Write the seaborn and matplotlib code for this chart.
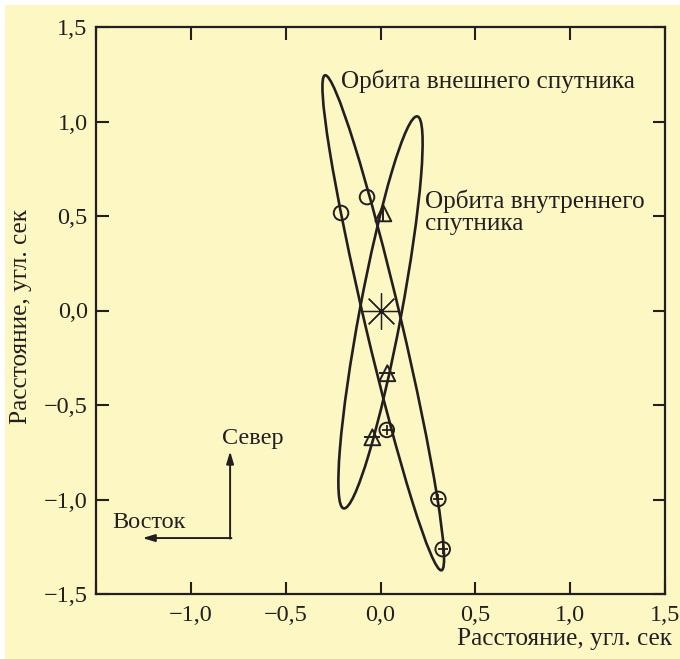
import numpy as np
import matplotlib
matplotlib.use('Agg')
import matplotlib.pyplot as plt
from matplotlib.patches import Ellipse, Rectangle
import pandas as pd
import seaborn as sns

# orbit ellipses: centre, full major / minor axis, angle (deg)
orbit_names = ['outer', 'inner']
orbit_cx = [0.0145, 0.0]
orbit_cy = [-0.065, -0.01]
orbit_major = [2.69, 2.11]
orbit_minor = [0.19, 0.22]
orbit_angle = [103.2, 79.4]

# satellite positions marked on the orbits
circle_x = [-0.208, -0.071, 0.033, 0.305, 0.328]
circle_y = [0.516, 0.600, -0.632, -0.997, -1.263]
circle_plus = [False, False, True, True, True]
tri_x = [0.015, 0.036, -0.043]
tri_y = [0.514, -0.332, -0.671]
tri_bar = ['|', '_', '_']

ticks = [-1.5, -1.0, -0.5, 0.0, 0.5, 1.0, 1.5]
xtick_labels = ['', '−1,0', '−0,5', '0,0', '0,5', '1,0', '1,5']
ytick_labels = ['−1,5', '−1,0', '−0,5', '0,0', '0,5', '1,0', '1,5']

INK = '#231f20'
BG = '#fdf7c4'

sns.set_theme(style='ticks')
plt.rcParams['font.family'] = ['Liberation Serif', 'DejaVu Serif']
plt.rcParams['axes.unicode_minus'] = False

fig = plt.figure(figsize=(6.8, 6.59), dpi=100, facecolor=BG)
# thin white margin on the top and left edges
fig.patches.append(Rectangle((0, 0), 5 / 680, 1, transform=fig.transFigure,
                             facecolor='white', edgecolor='none'))
fig.patches.append(Rectangle((0, 1 - 5 / 659), 1, 5 / 659, transform=fig.transFigure,
                             facecolor='white', edgecolor='none'))
ax = fig.add_axes([96 / 680, 65 / 659, 569 / 680, 567 / 659])
ax.set_facecolor(BG)

for cx, cy, w, h, a in zip(orbit_cx, orbit_cy, orbit_major, orbit_minor, orbit_angle):
    ax.add_patch(Ellipse((cx, cy), w, h, angle=a, fill=False, edgecolor=INK, lw=1.9, zorder=3))

pts = pd.DataFrame({'x': circle_x, 'y': circle_y, 'plus': circle_plus})
sns.scatterplot(data=pts, x='x', y='y', marker='o', s=110, facecolors='none',
                edgecolor=INK, linewidth=1.4, ax=ax, zorder=4)
sns.scatterplot(data=pts[pts['plus']], x='x', y='y', marker='+', s=45, color=INK,
                linewidth=1.3, ax=ax, zorder=4)

tri = pd.DataFrame({'x': tri_x, 'y': tri_y, 'bar': tri_bar})
sns.scatterplot(data=tri, x='x', y='y', marker='^', s=130, facecolors='none',
                edgecolor=INK, linewidth=1.4, ax=ax, zorder=4)
for bx, by, b in zip(tri_x, tri_y, tri_bar):
    ax.plot([bx], [by], marker=b, ms=11, mew=1.4, color=INK, zorder=4)

# central star
ax.plot([0], [0], marker=(8, 2, 0), ms=26, mew=0.9, color=INK, zorder=4)

# direction arrows
ax.annotate('', xy=(-0.793, -0.745), xytext=(-0.793, -1.207),
            arrowprops=dict(arrowstyle='-|>,head_length=0.6,head_width=0.18', color=INK, lw=1.4,
                            shrinkA=0, shrinkB=0))
ax.annotate('', xy=(-1.255, -1.204), xytext=(-0.786, -1.204),
            arrowprops=dict(arrowstyle='-|>,head_length=0.6,head_width=0.18', color=INK, lw=1.4,
                            shrinkA=0, shrinkB=0))

fs = 17.5
fs_txt = 18.2
ax.text(-0.208, 1.215, 'Орбита внешнего спутника', fontsize=fs_txt, color=INK, va='center', ha='left')
ax.text(0.235, 0.52, 'Орбита внутреннего\nспутника', fontsize=fs_txt, color=INK, va='center', ha='left',
        linespacing=1.05)
ax.text(-0.835, -0.675, 'Север', fontsize=fs, color=INK, va='center', ha='left')
ax.text(-1.415, -1.12, 'Восток', fontsize=fs, color=INK, va='center', ha='left')

ax.set_xlim(-1.5, 1.5)
ax.set_ylim(-1.5, 1.5)
ax.set_xticks(ticks)
ax.set_xticklabels(xtick_labels)
ax.set_yticks(ticks)
ax.set_yticklabels(ytick_labels)
ax.tick_params(direction='in', length=9, width=1.5, colors=INK, labelsize=fs,
               top=True, right=True, pad=6)
ax.tick_params(axis='x', pad=8)
for s in ax.spines.values():
    s.set_visible(True)
    s.set_linewidth(1.6)
    s.set_color(INK)

ax.set_xlabel('Расстояние, угл. сек', fontsize=fs_txt, color=INK)
ax.xaxis.set_label_coords(1.012, -0.06)
ax.xaxis.label.set_ha('right')
ax.set_ylabel('Расстояние, угл. сек', fontsize=fs_txt, color=INK)
ax.yaxis.set_label_coords(-0.112, 0.49)
if ax.get_legend():
    ax.get_legend().remove()

fig.savefig('out.png', dpi=100, facecolor=fig.get_facecolor())
